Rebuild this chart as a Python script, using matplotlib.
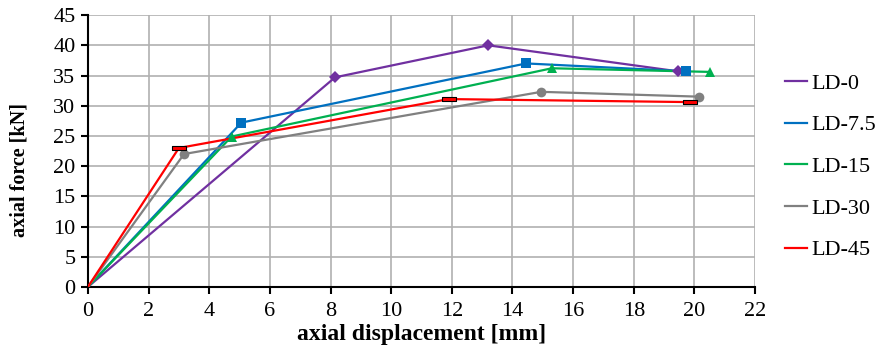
import matplotlib
matplotlib.use("Agg")
import matplotlib.pyplot as plt

# load-displacement curves
ld0_x = [0, 8.15, 13.2, 19.45]
ld0_y = [0, 34.7, 40.0, 35.7]
ld75_x = [0, 5.06, 14.45, 19.72]
ld75_y = [0, 27.2, 37.0, 35.7]
ld15_x = [0, 4.74, 15.3, 20.5]
ld15_y = [0, 24.9, 36.2, 35.6]
ld30_x = [0, 3.17, 14.95, 20.15]
ld30_y = [0, 22.0, 32.3, 31.5]
ld45_x = [0, 3.0, 11.9, 19.85]
ld45_y = [0, 23.0, 31.1, 30.6]

labels = ["LD-0", "LD-7.5", "LD-15", "LD-30", "LD-45"]
colors = ["#7030A0", "#0070C0", "#00B050", "#808080", "#FF0000"]

plt.rcParams["font.family"] = "Liberation Serif"

fig = plt.figure(figsize=(8.79, 3.6), dpi=100)
ax = fig.add_axes([0.100, 0.203, 0.759, 0.755])

dash = [(-1, -0.25), (1, -0.25), (1, 0.25), (-1, 0.25), (-1, -0.25)]
series = [
    (ld0_x, ld0_y, "D", 6, colors[0]),
    (ld75_x, ld75_y, "s", 7, colors[1]),
    (ld15_x, ld15_y, "^", 7, colors[2]),
    (ld30_x, ld30_y, "o", 7, colors[3]),
    (ld45_x, ld45_y, dash, 9.5, colors[4]),
]
for (x, y, m, ms, c), lab in zip(series, labels):
    ax.plot(x, y, color=c, lw=1.6, zorder=3)
    mec = "black" if lab == "LD-45" else c
    ax.plot(x[1:], y[1:], ls="none", marker=m, ms=ms, color=c,
            mec=mec, mew=0.8 if lab == "LD-45" else 0, zorder=4)
    ax.plot([], [], color=c, lw=1.6, label=lab)

ax.set_xlim(0, 22)
ax.set_ylim(0, 45)
ax.set_xticks(range(0, 23, 2))
ax.set_yticks(range(0, 46, 5))
ax.grid(True, color="#b0b0b0", lw=1.2)
ax.set_axisbelow(True)
for s in ["top", "right"]:
    ax.spines[s].set_visible(False)
for s in ["left", "bottom"]:
    ax.spines[s].set_linewidth(1.5)
ax.tick_params(direction="out", length=5, width=1.5, labelsize=16)
ax.tick_params(axis="x", pad=6)
ax.tick_params(axis="y", pad=4)

ax.set_xlabel("axial displacement [mm]", fontsize=17, fontweight="bold")
ax.set_ylabel("axial force [kN]", fontsize=14.5, fontweight="bold")
ax.xaxis.set_label_coords(0.5, -0.135)
ax.yaxis.set_label_coords(-0.088, 0.43)

ax.legend(loc="upper left", bbox_to_anchor=(1.015, 0.86), frameon=False,
          fontsize=16, handlelength=1.0, handletextpad=0.2, labelspacing=0.95)

fig.savefig("out.png", dpi=100)
